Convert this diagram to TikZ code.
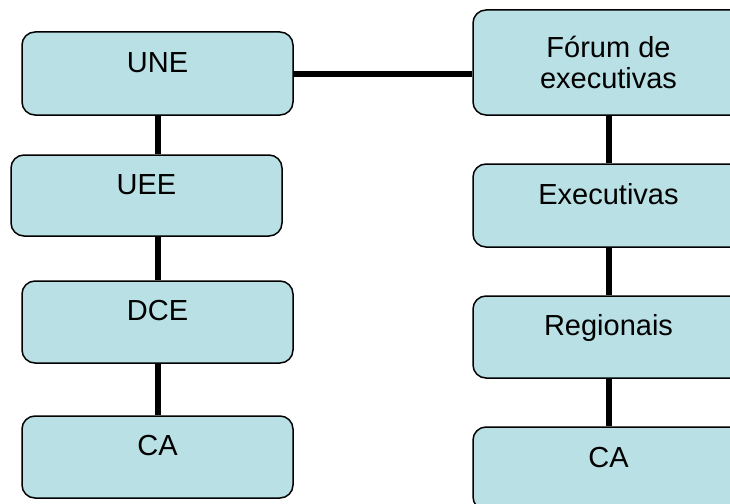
\documentclass[tikz,border=0pt]{standalone}
\usepackage{fontspec}
\setmainfont{Liberation Sans}
\usepackage{tikz}
\usetikzlibrary{calc}
\definecolor{boxblue}{RGB}{185,224,228}

\begin{document}
\begin{tikzpicture}[x = 1pt, y = -1pt,
  box/.style = {draw, line width = 1.5pt, fill = boxblue, rounded corners = 13pt,
    minimum width = 271pt, inner sep = 0pt, font = \fontsize{29}{31}\selectfont},
  oneline/.style = {text height = 21pt, text depth = 24pt},
  link/.style = {line width = 6pt}]
\useasboundingbox (0, 0) rectangle (730, 503);
\clip (0, 0) rectangle (730, 503);
% left column
\node[box, oneline, minimum height = 83pt] (une) at (157.5, 73.5) {UNE};
\node[box, oneline, minimum height = 81pt] (uee) at (146.5, 195.5) {UEE};
\node[box, oneline, minimum height = 82pt] (dce) at (157.5, 322) {DCE};
\node[box, oneline, minimum height = 82pt] (caL) at (157.5, 457) {CA};
% right column
\node[box, minimum height = 105pt, align = center] (forum) at (608.5, 62.5) {F\'orum de\\executivas};
\node[box, oneline, minimum height = 83pt] (exec) at (608.5, 205.5) {Executivas};
\node[box, oneline, minimum height = 82pt] (reg) at (608.5, 337) {Regionais};
\node[box, oneline, minimum height = 83pt] (caR) at (608.5, 468.5) {CA};
% links
\draw[link] (une.east) -- (une.east -| forum.west);
\draw[link] (une.south) -- (une.south |- uee.north);
\draw[link] (dce.north |- uee.south) -- (dce.north);
\draw[link] (dce.south) -- (caL.north);
\draw[link] (forum.south) -- (exec.north);
\draw[link] (exec.south) -- (reg.north);
\draw[link] (reg.south) -- (caR.north);
\end{tikzpicture}
\end{document}
